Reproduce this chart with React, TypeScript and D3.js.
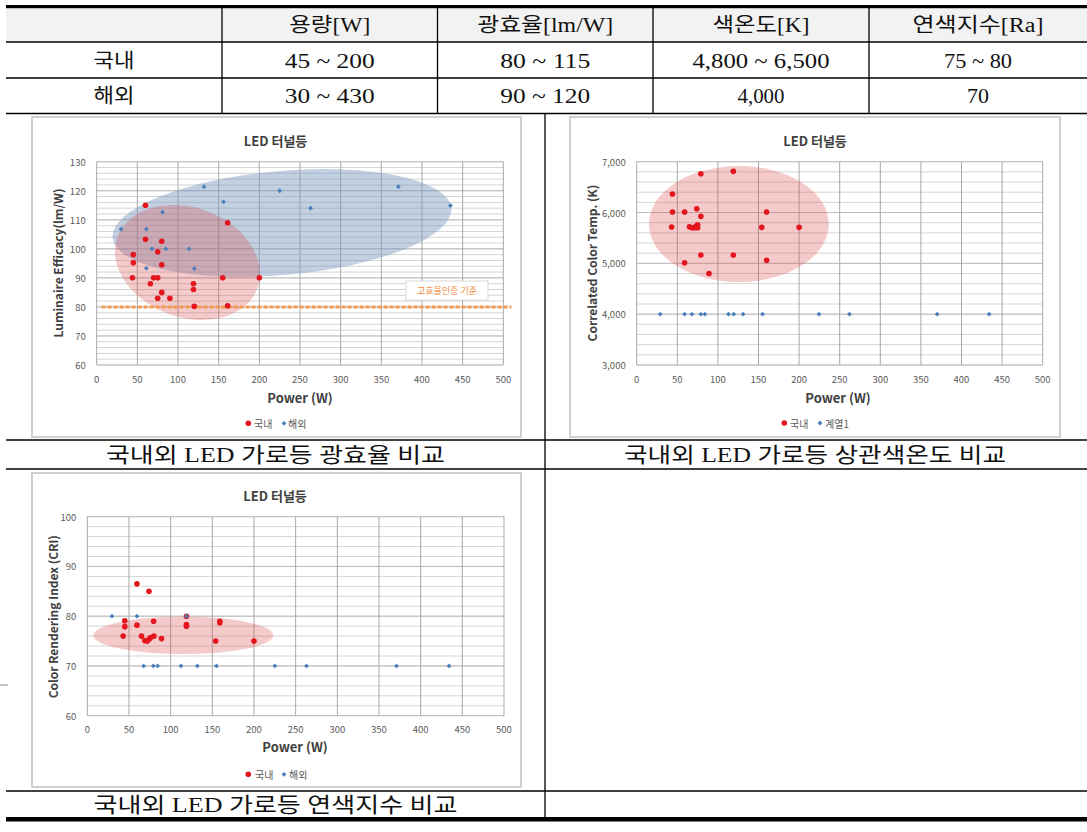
import React from 'react';
import * as d3 from 'd3';

// ---------- Table data ----------
const tableHeaders = ['용량[W]', '광효율[lm/W]', '색온도[K]', '연색지수[Ra]'];
const tableRowLabels = ['국내', '해외'];
const tableDomestic = ['45 ~ 200', '80 ~ 115', '4,800 ~ 6,500', '75 ~ 80'];
const tableOverseas = ['30 ~ 430', '90 ~ 120', '4,000', '70'];
const captions = [
  '국내외 LED 가로등 광효율 비교',
  '국내외 LED 가로등 상관색온도 비교',
  '국내외 LED 가로등 연색지수 비교',
];

// ---------- Chart common ----------
const chartTitle = 'LED 터널등';
const powerTicks = [0, 50, 100, 150, 200, 250, 300, 350, 400, 450, 500];
const xTitle = 'Power (W)';

// ---------- Chart 1: efficacy ----------
const effTicks = [60, 70, 80, 90, 100, 110, 120, 130];
const effDomPower = [60, 60, 45, 45, 44, 75, 80, 80, 70, 75, 66, 80, 75, 90, 119, 119, 120, 155, 161, 161, 200];
const effDomValue = [115, 103.3, 98, 95.2, 90, 99, 102.6, 94.5, 90, 90, 88, 85, 83, 83, 88, 86, 80.2, 90, 109, 80.4, 90];
const effOvsPower = [30, 61, 61, 68, 81, 85, 113.5, 120, 132, 156, 225, 263, 371, 435];
const effOvsValue = [106.8, 106.8, 93.3, 100, 112.6, 100, 100, 93.2, 121.4, 116.2, 120, 114, 121.4, 114.9];
const effThreshold = 80;
const effThresholdLabel = '고효율인증 기준';

// ---------- Chart 2: CCT ----------
const cctTicks = [3000, 4000, 5000, 6000, 7000];
const cctDomPower = [79, 119, 44, 44, 59, 74, 79, 160, 43, 65, 68, 71, 73, 75, 75, 154, 200, 79, 119, 59, 160, 89];
const cctDomValue = [6764, 6810, 6364, 6010, 6010, 6075, 5925, 6010, 5715, 5721, 5700, 5700, 5730, 5760, 5700, 5708, 5708, 5164, 5164, 5013, 5059, 4800];
const cctOvsPower = [29, 59, 68, 79, 84, 113, 119.5, 131, 155, 224.5, 262, 370, 434];
const cctOvsValue = [4000, 4000, 4000, 4000, 4000, 4000, 4000, 4000, 4000, 4000, 4000, 4000, 4000];

// ---------- Chart 3: CRI ----------
const criTicks = [60, 70, 80, 90, 100];
const criDomPower = [59.6, 74, 45, 45, 43, 59.6, 79.6, 65, 69, 72, 74.4, 76, 80, 89, 119, 119, 119, 159, 159, 154, 200];
const criDomValue = [86.5, 85, 79.1, 77.9, 76, 78.2, 79, 76, 75.1, 75, 75.4, 75.7, 76, 75.5, 78.3, 78, 80, 79, 78.7, 75, 75];
const criOvsPower = [29.6, 59.6, 119, 67.6, 79.2, 84.4, 112.4, 132, 155, 225, 263, 371, 434];
const criOvsValue = [80, 80, 80, 70, 70, 70, 70, 70, 70, 70, 70, 70, 70];

const RED = '#e3161e';
const BLUE = '#4a7ebb';
const FONT_CHART = "'Noto Sans CJK KR', 'Noto Sans', sans-serif";
const FONT_TABLE = "'Liberation Serif', 'DejaVu Serif', 'Noto Sans CJK KR', serif";

interface EllipseSpec { cx: number; cy: number; rx: number; ry: number; angle: number; fill: string; opacity: number; }

interface ChartProps {
  frame: { x: number; y: number; w: number; h: number };
  plot: { l: number; t: number; r: number; b: number };
  yTicks: number[];
  yMinor: number;
  yFmt: (v: number) => string;
  domX: number[]; domY: number[];
  ovsX: number[]; ovsY: number[];
  ellipses: EllipseSpec[];
  yTitle: string;
  titleX: number; titleY: number;
  yTitleX: number; yTitleY: number;
  xTitleX: number; xTitleY: number;
  legendY: number; legendX: number[];
  legendLabels: string[];
  threshold?: { y: number; x0: number; x1: number; label: string; box: [number, number, number, number] };
}

function diamond(x: number, y: number, r: number) {
  return `M${x},${y - r}L${x + r},${y}L${x},${y + r}L${x - r},${y}Z`;
}

function Scatter(p: ChartProps) {
  const x = d3.scaleLinear().domain([0, 500]).range([p.plot.l, p.plot.r]);
  const yDom = d3.extent(p.yTicks) as [number, number];
  const y = d3.scaleLinear().domain(yDom).range([p.plot.b, p.plot.t]);
  const minor = d3.range(yDom[0], yDom[1] + 1e-9, p.yMinor);
  return (
    <g>
      <rect x={p.frame.x} y={p.frame.y} width={p.frame.w} height={p.frame.h} fill="#fff" stroke="#d0d0d0" strokeWidth={2} />
      <text x={p.titleX} y={p.titleY} textAnchor="middle" dominantBaseline="central" fontFamily={FONT_CHART} fontWeight="bold" fontSize={13} fill="#404040">{chartTitle}</text>
      {/* grid */}
      {minor.map((v, i) => (
        <line key={'m' + i} x1={p.plot.l} x2={p.plot.r} y1={y(v)} y2={y(v)} stroke="#d4d4d4" strokeWidth={1} />
      ))}
      {p.yTicks.map((v, i) => (
        <line key={'h' + i} x1={p.plot.l} x2={p.plot.r} y1={y(v)} y2={y(v)} stroke="#bdbdbd" strokeWidth={1} />
      ))}
      {powerTicks.map((v, i) => (
        <line key={'v' + i} x1={x(v)} x2={x(v)} y1={p.plot.t} y2={p.plot.b} stroke="#a8a8a8" strokeWidth={1} />
      ))}
      {/* tick labels */}
      {p.yTicks.map((v, i) => (
        <text key={'yt' + i} x={p.plot.l - 11} y={y(v)} textAnchor="end" dominantBaseline="central" fontFamily={FONT_CHART} fontSize={9.5} fill="#595959">{p.yFmt(v)}</text>
      ))}
      {powerTicks.map((v, i) => (
        <text key={'xt' + i} x={x(v)} y={p.plot.b + 13.5} textAnchor="middle" dominantBaseline="central" fontFamily={FONT_CHART} fontSize={9.5} fill="#595959">{v}</text>
      ))}
      {/* ellipses */}
      {p.ellipses.map((e, i) => {
        const cx = x(e.cx), cy = y(e.cy);
        const rx = Math.abs(x(e.cx + e.rx) - cx), ry = Math.abs(y(e.cy + e.ry) - cy);
        return <ellipse key={'e' + i} cx={cx} cy={cy} rx={rx} ry={ry} transform={`rotate(${e.angle},${cx},${cy})`} fill={e.fill} fillOpacity={e.opacity} />;
      })}
      {/* threshold */}
      {p.threshold && (
        <g>
          <line x1={x(p.threshold.x0)} x2={x(p.threshold.x1)} y1={y(p.threshold.y)} y2={y(p.threshold.y)} stroke="#f39a4c" strokeWidth={3} strokeDasharray="4,2" />
          <rect x={p.threshold.box[0]} y={p.threshold.box[1]} width={p.threshold.box[2]} height={p.threshold.box[3]} fill="#fff" stroke="#d9d9d9" />
          <text x={p.threshold.box[0] + p.threshold.box[2] / 2} y={p.threshold.box[1] + p.threshold.box[3] / 2} textAnchor="middle" dominantBaseline="central" fontFamily={FONT_CHART} fontSize={9} fill="#f08a3c">{p.threshold.label}</text>
        </g>
      )}
      {/* points */}
      {p.domX.map((v, i) => (
        <circle key={'d' + i} cx={x(v)} cy={y(p.domY[i])} r={2.8} fill={RED} />
      ))}
      {p.ovsX.map((v, i) => (
        <path key={'o' + i} d={diamond(x(v), y(p.ovsY[i]), 2.4)} fill={BLUE} />
      ))}
      {/* axis titles */}
      <text x={p.xTitleX} y={p.xTitleY} textAnchor="middle" dominantBaseline="central" fontFamily={FONT_CHART} fontWeight="bold" fontSize={13} fill="#404040">{xTitle}</text>
      <text transform={`translate(${p.yTitleX},${p.yTitleY}) rotate(-90)`} textAnchor="middle" dominantBaseline="central" fontFamily={FONT_CHART} fontWeight="bold" fontSize={12} fill="#404040">{p.yTitle}</text>
      {/* legend */}
      <circle cx={p.legendX[0]} cy={p.legendY} r={2.8} fill={RED} />
      <text x={p.legendX[1]} y={p.legendY} dominantBaseline="central" fontFamily={FONT_CHART} fontSize={10} fill="#595959">{p.legendLabels[0]}</text>
      <path d={diamond(p.legendX[2], p.legendY, 2.4)} fill={BLUE} />
      <text x={p.legendX[3]} y={p.legendY} dominantBaseline="central" fontFamily={FONT_CHART} fontSize={10} fill="#595959">{p.legendLabels[1]}</text>
    </g>
  );
}

const colX = [6, 222, 437.5, 653, 869, 1087];
const headerWidths = [81, 136, 97, 131];
const domWidths = [90, 90, 137, 68];
const ovsWidths = [90, 90, 47, 22];

export default function App() {
  const fmtInt = d3.format('d');
  const fmtComma = d3.format(',');
  const rowY = [25, 60.5, 96];
  return (
    <svg width={1087} height={832} style={{ position: 'fixed', left: 0, top: 0, background: '#fff' }}>
      <rect x={0} y={0} width={1087} height={832} fill="#fff" />
      {/* table */}
      <rect x={6} y={8} width={1081} height={34} fill="#f2f2f2" />
      <rect x={6} y={5} width={1081} height={3.2} fill="#000" />
      {[42, 78, 113.5].map((v, i) => (
        <line key={'tl' + i} x1={6} x2={1087} y1={v} y2={v} stroke="#000" strokeWidth={1.3} />
      ))}
      {colX.slice(1, 5).map((v, i) => (
        <line key={'tc' + i} x1={v} x2={v} y1={8} y2={113.5} stroke="#000" strokeWidth={1.3} />
      ))}
      {tableHeaders.map((t, i) => (
        <text key={'th' + i} x={(colX[i + 1] + colX[i + 2]) / 2} y={rowY[0]} textAnchor="middle" dominantBaseline="central" fontFamily={FONT_TABLE} fontSize={20} textLength={headerWidths[i]} lengthAdjust="spacingAndGlyphs" fill="#111">{t}</text>
      ))}
      {tableRowLabels.map((t, i) => (
        <text key={'tr' + i} x={(colX[0] + colX[1]) / 2} y={rowY[i + 1]} textAnchor="middle" dominantBaseline="central" fontFamily={FONT_TABLE} fontSize={20} textLength={41} lengthAdjust="spacingAndGlyphs" fill="#111">{t}</text>
      ))}
      {tableDomestic.map((t, i) => (
        <text key={'td' + i} x={(colX[i + 1] + colX[i + 2]) / 2} y={rowY[1]} textAnchor="middle" dominantBaseline="central" fontFamily={FONT_TABLE} fontSize={20} textLength={domWidths[i]} lengthAdjust="spacingAndGlyphs" fill="#111">{t}</text>
      ))}
      {tableOverseas.map((t, i) => (
        <text key={'to' + i} x={(colX[i + 1] + colX[i + 2]) / 2} y={rowY[2]} textAnchor="middle" dominantBaseline="central" fontFamily={FONT_TABLE} fontSize={20} textLength={ovsWidths[i]} lengthAdjust="spacingAndGlyphs" fill="#111">{t}</text>
      ))}
      {/* layout grid lines */}
      <line x1={545} x2={545} y1={113.5} y2={817} stroke="#000" strokeWidth={1.3} />
      {[440, 469, 791].map((v, i) => (
        <line key={'cl' + i} x1={6} x2={1087} y1={v} y2={v} stroke="#000" strokeWidth={1.3} />
      ))}
      <rect x={6} y={817} width={1081} height={4.5} fill="#000" />
      <line x1={0} x2={8} y1={685} y2={685} stroke="#888" strokeWidth={1} />
      <text x={275.5} y={455} textAnchor="middle" dominantBaseline="central" fontFamily={FONT_TABLE} fontSize={21} textLength={339} lengthAdjust="spacingAndGlyphs" fill="#111">{captions[0]}</text>
      <text x={815} y={455} textAnchor="middle" dominantBaseline="central" fontFamily={FONT_TABLE} fontSize={21} textLength={382} lengthAdjust="spacingAndGlyphs" fill="#111">{captions[1]}</text>
      <text x={275.5} y={805} textAnchor="middle" dominantBaseline="central" fontFamily={FONT_TABLE} fontSize={21} textLength={364} lengthAdjust="spacingAndGlyphs" fill="#111">{captions[2]}</text>

      <Scatter
        frame={{ x: 32, y: 117, w: 489, h: 320 }}
        plot={{ l: 96.7, t: 161.7, r: 503.3, b: 365 }}
        yTicks={effTicks} yMinor={2} yFmt={fmtInt}
        domX={effDomPower} domY={effDomValue} ovsX={effOvsPower} ovsY={effOvsValue}
        ellipses={[
          { cx: 227.8, cy: 108.9, rx: 209, ry: 17.9, angle: -5, fill: 'rgb(120,150,190)', opacity: 0.45 },
          { cx: 111.6, cy: 95.3, rx: 91.7, ry: 18.9, angle: 20, fill: 'rgb(220,80,80)', opacity: 0.3 },
        ]}
        yTitle="Luminaire Efficacy(lm/W)"
        titleX={275.5} titleY={140}
        yTitleX={57} yTitleY={263}
        xTitleX={300} xTitleY={397}
        legendY={423.3} legendX={[248.3, 254, 284, 288]}
        legendLabels={['국내', '해외']}
        threshold={{ y: effThreshold, x0: 6, x1: 510, label: effThresholdLabel, box: [406, 281, 82, 19] }}
      />
      <Scatter
        frame={{ x: 570, y: 117, w: 490, h: 320 }}
        plot={{ l: 636.7, t: 161.7, r: 1042.7, b: 365 }}
        yTicks={cctTicks} yMinor={200} yFmt={fmtComma}
        domX={cctDomPower} domY={cctDomValue} ovsX={cctOvsPower} ovsY={cctOvsValue}
        ellipses={[
          { cx: 125.8, cy: 5774, rx: 110.7, ry: 1141, angle: 0, fill: 'rgb(220,80,80)', opacity: 0.3 },
        ]}
        yTitle="Correlated Color Temp. (K)"
        titleX={815} titleY={140}
        yTitleX={591.7} yTitleY={263}
        xTitleX={838} xTitleY={397}
        legendY={423} legendX={[784.3, 790, 820, 825]}
        legendLabels={['국내', '계열1']}
      />
      <Scatter
        frame={{ x: 32, y: 473, w: 489, h: 314 }}
        plot={{ l: 87.3, t: 516.7, r: 504, b: 715.7 }}
        yTicks={criTicks} yMinor={2} yFmt={fmtInt}
        domX={criDomPower} domY={criDomValue} ovsX={criOvsPower} ovsY={criOvsValue}
        ellipses={[
          { cx: 115.2, cy: 76.15, rx: 108, ry: 3.76, angle: 0, fill: 'rgb(220,80,80)', opacity: 0.3 },
        ]}
        yTitle="Color Rendering Index (CRI)"
        titleX={275} titleY={495}
        yTitleX={52.7} yTitleY={616.7}
        xTitleX={295} xTitleY={746.7}
        legendY={774.3} legendX={[248.3, 255, 284, 289]}
        legendLabels={['국내', '해외']}
      />
    </svg>
  );
}
